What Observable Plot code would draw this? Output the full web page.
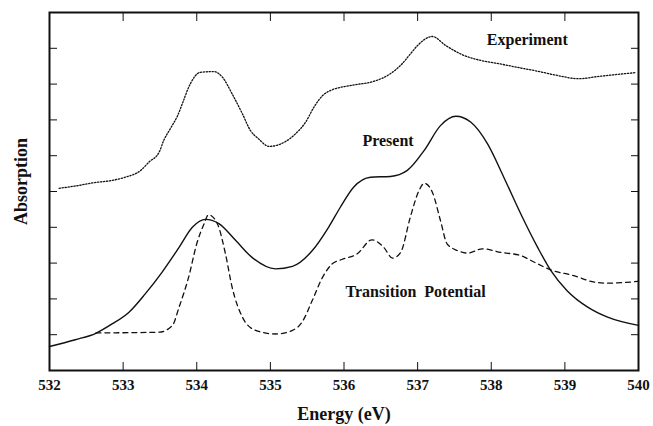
<!DOCTYPE html>
<html>
<head>
<meta charset="utf-8">
<script src="https://cdn.jsdelivr.net/npm/d3@7"></script>
<script src="https://cdn.jsdelivr.net/npm/@observablehq/plot@0.6"></script>
</head>
<body style="margin:0;padding:0;background:#fff">
<div id="chart"></div>
<script>
// O 1s absorption spectra: experiment vs. two calculations
const expE = [532.13, 532.40, 532.58, 532.85, 533.03, 533.24, 533.35, 533.49, 533.55, 533.64, 533.74, 533.82, 533.89, 534.05, 534.23, 534.35, 534.48, 534.62, 534.73, 534.84, 534.98, 535.21, 535.34, 535.48, 535.59, 535.71, 535.84, 536.00, 536.18, 536.41, 536.63, 536.79, 536.90, 537.00, 537.20, 537.38, 537.63, 537.86, 538.08, 538.35, 538.63, 538.90, 539.19, 539.44, 539.71, 539.96];
const expY = [5.09, 5.17, 5.24, 5.31, 5.40, 5.59, 5.82, 6.10, 6.42, 6.75, 7.12, 7.54, 7.91, 8.33, 8.35, 8.19, 7.73, 7.17, 6.70, 6.47, 6.26, 6.40, 6.61, 6.94, 7.35, 7.68, 7.84, 7.93, 7.99, 8.08, 8.29, 8.57, 8.84, 9.08, 9.33, 9.08, 8.80, 8.66, 8.58, 8.47, 8.36, 8.24, 8.15, 8.21, 8.27, 8.32];

const preE = [532.00, 532.35, 532.63, 532.85, 533.08, 533.30, 533.53, 533.76, 533.94, 534.12, 534.30, 534.53, 534.75, 535.07, 535.30, 535.57, 535.79, 535.95, 536.13, 536.36, 536.63, 536.86, 537.09, 537.31, 537.52, 537.72, 537.95, 538.17, 538.40, 538.63, 538.81, 539.03, 539.31, 539.58, 540.00];
const preY = [0.67, 0.86, 1.04, 1.30, 1.63, 2.14, 2.75, 3.44, 4.00, 4.22, 4.10, 3.63, 3.16, 2.84, 2.91, 3.35, 4.00, 4.56, 5.12, 5.40, 5.42, 5.59, 6.15, 6.84, 7.10, 6.94, 6.33, 5.40, 4.38, 3.44, 2.79, 2.23, 1.77, 1.49, 1.26];

const tpE = [532.63, 533.49, 533.67, 533.76, 533.89, 534.00, 534.10, 534.16, 534.28, 534.39, 534.48, 534.62, 534.80, 535.07, 535.30, 535.43, 535.57, 535.71, 535.84, 535.97, 536.18, 536.38, 536.54, 536.66, 536.77, 536.90, 537.02, 537.09, 537.20, 537.31, 537.40, 537.54, 537.68, 537.88, 538.13, 538.40, 538.58, 538.81, 539.12, 539.40, 539.58, 540.00];
const tpY = [1.05, 1.07, 1.26, 1.77, 2.61, 3.54, 4.10, 4.35, 4.10, 3.26, 2.33, 1.49, 1.12, 1.02, 1.12, 1.35, 1.96, 2.61, 2.98, 3.10, 3.26, 3.65, 3.44, 3.14, 3.30, 4.28, 5.03, 5.23, 4.98, 4.19, 3.54, 3.35, 3.28, 3.40, 3.30, 3.21, 3.03, 2.81, 2.65, 2.47, 2.44, 2.49];

const xTicks = [532, 533, 534, 535, 536, 537, 538, 539, 540];
const yTicks = [1, 2, 3, 4, 5, 6, 7, 8, 9];

const curveLabels = [
  {x: 537.94, y: 9.08, text: "Experiment"},
  {x: 536.25, y: 6.26, text: "Present"},
  {x: 536.02, y: 2.04, text: "Transition  Potential"}
];

const pts = (xs, ys) => xs.map((x, i) => ({x, y: ys[i]}));
const expData = pts(expE, expY);
const preData = pts(preE, preY);
const tpData = pts(tpE, tpY);

const ink = "#111";
const serif = "Liberation Serif, Times New Roman, serif";
const font = {fontFamily: serif, fontWeight: "bold", fill: ink};

const chart = Plot.plot({
  width: 653,
  height: 426,
  marginLeft: 49,
  marginRight: 15,
  marginTop: 12,
  marginBottom: 56,
  style: "font-family: 'Liberation Serif', 'Times New Roman', serif; font-weight: bold; background: #fff; color: #111;",
  x: {domain: [532, 540]},
  y: {domain: [0, 10]},
  marks: [
    // inward ticks on all four sides
    Plot.axisX(xTicks.slice(1, -1), {anchor: "bottom", tickSize: -8, tickFormat: () => "", label: null, stroke: ink}),
    Plot.axisX(xTicks.slice(1, -1), {anchor: "top", tickSize: -8, tickFormat: () => "", label: null, stroke: ink}),
    Plot.axisY(yTicks, {anchor: "left", tickSize: -8, tickFormat: () => "", label: null, stroke: ink}),
    Plot.axisY(yTicks, {anchor: "right", tickSize: -8, tickFormat: () => "", label: null, stroke: ink}),
    // bottom tick labels
    Plot.axisX(xTicks, {anchor: "bottom", tickSize: 0, tickPadding: 9, label: null, fontSize: 15, ...font}),
    Plot.frame({stroke: ink, strokeWidth: 2}),
    Plot.line(expData, {x: "x", y: "y", curve: "monotone-x", stroke: ink, strokeWidth: 1.3, strokeDasharray: "1.3,1.7"}),
    Plot.line(preData, {x: "x", y: "y", curve: "monotone-x", stroke: ink, strokeWidth: 1.4}),
    Plot.line(tpData, {x: "x", y: "y", curve: "monotone-x", stroke: ink, strokeWidth: 1.3, strokeDasharray: "5,4"}),
    Plot.text(curveLabels, {x: "x", y: "y", text: "text", textAnchor: "start", lineAnchor: "bottom", fontSize: 16, ...font}),
    Plot.text(["Energy (eV)"], {frameAnchor: "bottom", textAnchor: "middle", dy: 44, lineAnchor: "middle", fontSize: 18, ...font}),
    Plot.text(["Absorption"], {frameAnchor: "left", textAnchor: "middle", rotate: -90, dx: -28, dy: -10, lineAnchor: "middle", fontSize: 18, ...font})
  ]
});

document.getElementById("chart").appendChild(chart);
</script>
</body>
</html>
